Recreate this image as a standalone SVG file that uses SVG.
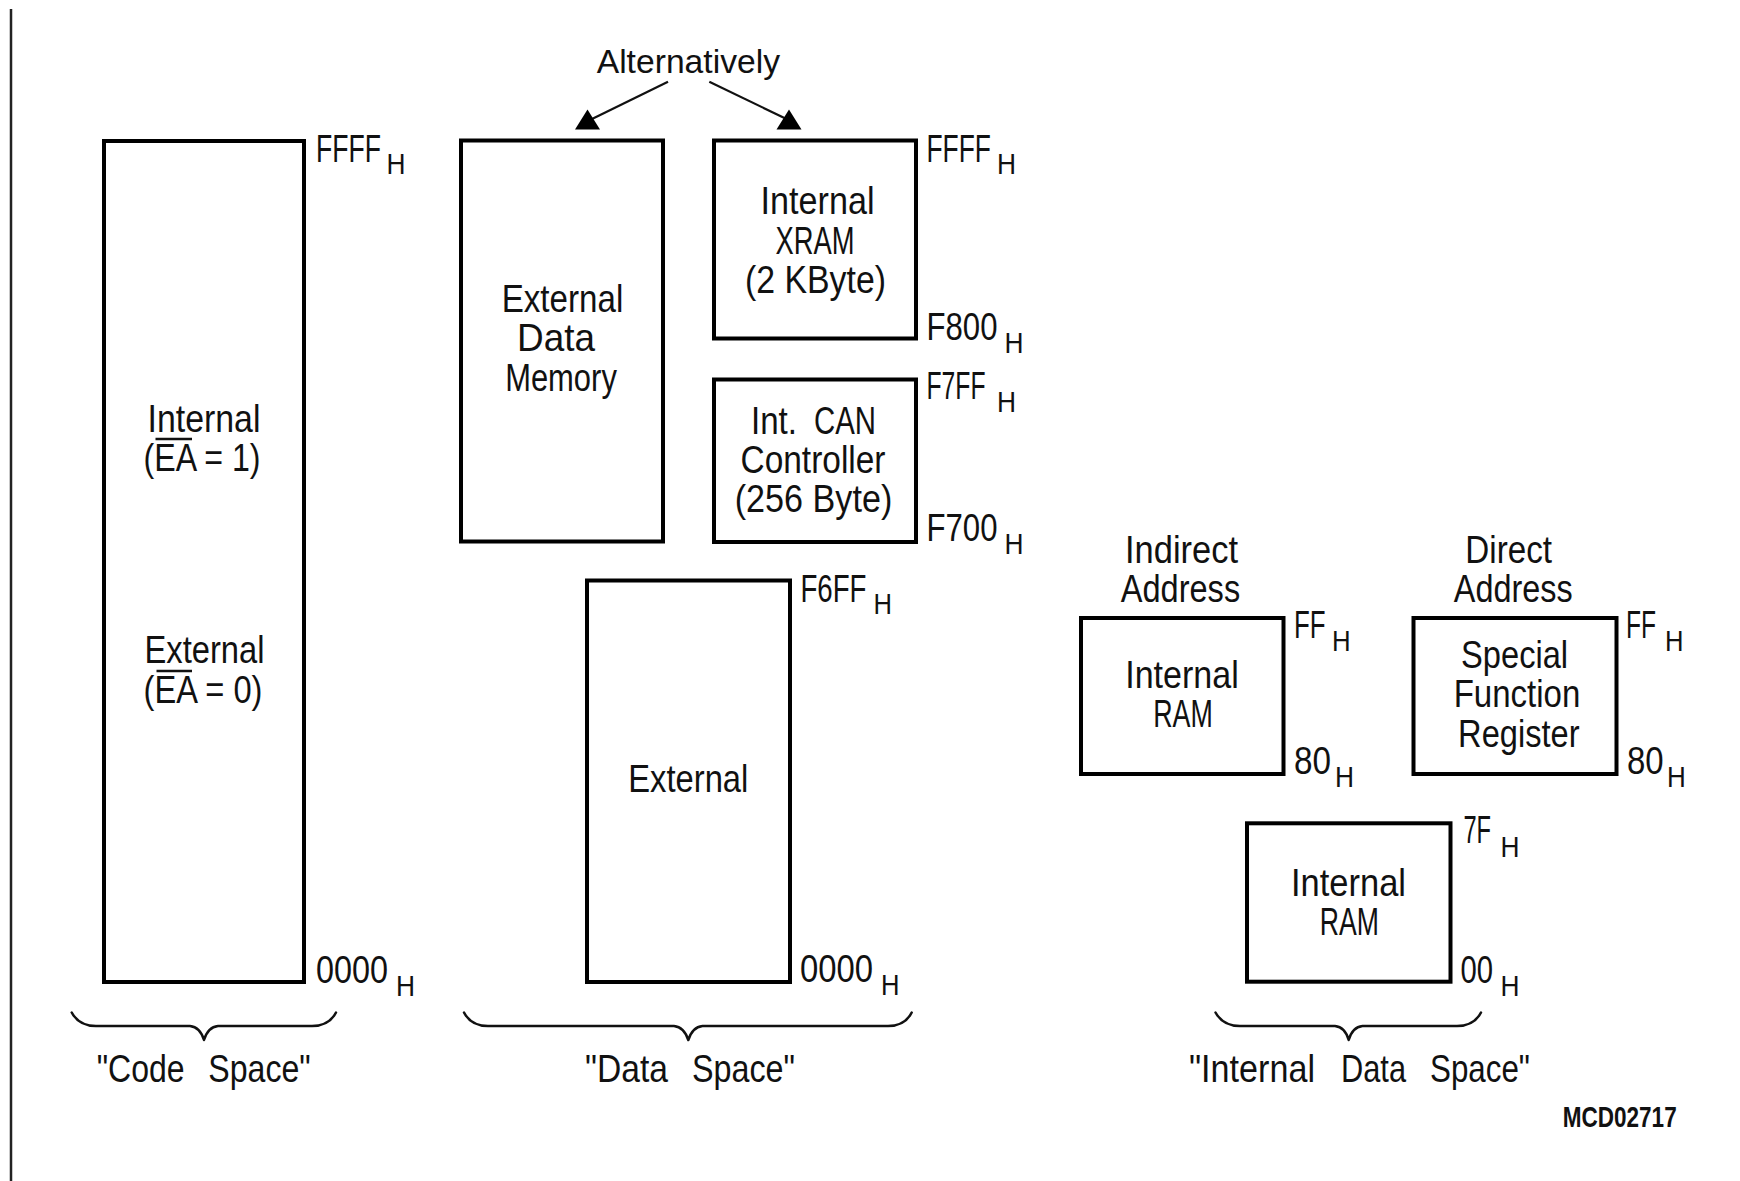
<svg xmlns="http://www.w3.org/2000/svg" width="1740" height="1181" viewBox="0 0 1740 1181">
<style>
  text { font-family: "Liberation Sans", Arial, "DejaVu Sans", sans-serif; fill: #111; }
  .t { font-size: 39px; }
  .a { font-size: 38px; }
  .h { font-size: 30px; }
  .m { text-anchor: middle; }
  .alt { font-size: 34px; }
  .code { font-size: 30px; font-weight: bold; }
  .box { fill: #fff; stroke: #000; stroke-width: 4; }
  .br { fill: none; stroke: #111; stroke-width: 2.5; stroke-linecap: round; stroke-linejoin: round; }
  .ln { fill: none; stroke: #111; stroke-width: 2.2; }
  .ov { stroke: #111; stroke-width: 2.5; }
</style>
<defs>
  <polygon id="ahead" points="-12.5,0 12.5,0 0,-20" fill="#000"/>
</defs>
<rect width="1740" height="1181" fill="#fff"/>
<line x1="11" y1="9" x2="11" y2="1181" stroke="#222" stroke-width="2.5"/>

<g id="code-space">
  <rect class="box" x="104" y="141" width="200" height="841"/>
  <text class="a" transform="translate(316 162) scale(0.70 1)">FFFF</text>
  <text class="h" transform="translate(386.5 174) scale(0.877 1)">H</text>
  <text class="t m" x="204" y="431.8" textLength="113" lengthAdjust="spacingAndGlyphs">Internal</text>
  <text class="t" x="143.5" y="471.2" textLength="117" lengthAdjust="spacingAndGlyphs">(EA = 1)</text>
  <line class="ov" x1="155.5" y1="439" x2="192" y2="439"/>
  <text class="t m" x="204.5" y="663.3" textLength="120" lengthAdjust="spacingAndGlyphs">External</text>
  <text class="t" x="143.5" y="703.2" textLength="119" lengthAdjust="spacingAndGlyphs">(EA = 0)</text>
  <line class="ov" x1="156.5" y1="671" x2="192" y2="671"/>
  <text class="a" transform="translate(316 982.5) scale(0.852 1)">0000</text>
  <text class="h" transform="translate(396 995.5) scale(0.877 1)">H</text>
</g>

<g id="ext-data-memory">
  <rect class="box" x="461" y="140.5" width="202" height="401"/>
  <text class="t m" x="562.5" y="312" textLength="121.6" lengthAdjust="spacingAndGlyphs">External</text>
  <text class="t m" x="556" y="351.2" textLength="78" lengthAdjust="spacingAndGlyphs">Data</text>
  <text class="t m" x="561" y="390.6" textLength="111.7" lengthAdjust="spacingAndGlyphs">Memory</text>
</g>

<g id="internal-xram">
  <rect class="box" x="714" y="140.5" width="202" height="198"/>
  <text class="t m" x="817.5" y="214" textLength="114" lengthAdjust="spacingAndGlyphs">Internal</text>
  <text class="t m" x="815" y="253.5" textLength="79" lengthAdjust="spacingAndGlyphs">XRAM</text>
  <text class="t m" x="815.5" y="292.5" textLength="141" lengthAdjust="spacingAndGlyphs">(2 KByte)</text>
  <text class="a" transform="translate(926.5 161.5) scale(0.694 1)">FFFF</text>
  <text class="h" transform="translate(997 174) scale(0.877 1)">H</text>
  <text class="a" transform="translate(926.5 339.5) scale(0.82 1)">F800</text>
  <text class="h" transform="translate(1004.5 352.5) scale(0.877 1)">H</text>
</g>

<g id="can-controller">
  <rect class="box" x="714" y="379.5" width="202" height="162.5"/>
  <text class="t" y="434"><tspan x="751" textLength="46" lengthAdjust="spacingAndGlyphs">Int.</tspan> <tspan x="814" textLength="62" lengthAdjust="spacingAndGlyphs">CAN</tspan></text>
  <text class="t m" x="813" y="473" textLength="145" lengthAdjust="spacingAndGlyphs">Controller</text>
  <text class="t m" x="813.5" y="512" textLength="157.5" lengthAdjust="spacingAndGlyphs">(256 Byte)</text>
  <text class="a" transform="translate(926.5 399) scale(0.65 1)">F7FF</text>
  <text class="h" transform="translate(997 411.5) scale(0.877 1)">H</text>
  <text class="a" transform="translate(926.5 541) scale(0.82 1)">F700</text>
  <text class="h" transform="translate(1004.5 554) scale(0.877 1)">H</text>
</g>

<g id="external-data">
  <rect class="box" x="587" y="580.5" width="203" height="401.5"/>
  <text class="t m" x="688.3" y="791.7" textLength="120" lengthAdjust="spacingAndGlyphs">External</text>
  <text class="a" transform="translate(800.5 601.7) scale(0.727 1)">F6FF</text>
  <text class="h" transform="translate(873.5 614) scale(0.854 1)">H</text>
  <text class="a" transform="translate(800 982) scale(0.864 1)">0000</text>
  <text class="h" transform="translate(881 994.5) scale(0.854 1)">H</text>
</g>

<g id="indirect-internal-ram">
  <text class="t m" x="1181.5" y="563" textLength="113" lengthAdjust="spacingAndGlyphs">Indirect</text>
  <text class="t m" x="1180.5" y="601.7" textLength="119.3" lengthAdjust="spacingAndGlyphs">Address</text>
  <rect class="box" x="1081" y="618" width="202.5" height="156"/>
  <text class="t m" x="1182" y="688" textLength="113.6" lengthAdjust="spacingAndGlyphs">Internal</text>
  <text class="t m" x="1183" y="727" textLength="59.7" lengthAdjust="spacingAndGlyphs">RAM</text>
  <text class="a" transform="translate(1294 638) scale(0.68 1)">FF</text>
  <text class="h" transform="translate(1332 650.5) scale(0.86 1)">H</text>
  <text class="a" transform="translate(1294 774) scale(0.875 1)">80</text>
  <text class="h" transform="translate(1335 787) scale(0.877 1)">H</text>
</g>

<g id="sfr">
  <text class="t m" x="1508.7" y="563" textLength="86.7" lengthAdjust="spacingAndGlyphs">Direct</text>
  <text class="t m" x="1513.2" y="601.7" textLength="118.8" lengthAdjust="spacingAndGlyphs">Address</text>
  <rect class="box" x="1413.5" y="618" width="203" height="156"/>
  <text class="t m" x="1514.6" y="668" textLength="107" lengthAdjust="spacingAndGlyphs">Special</text>
  <text class="t m" x="1517" y="707" textLength="126.6" lengthAdjust="spacingAndGlyphs">Function</text>
  <text class="t m" x="1518.8" y="746.7" textLength="121.4" lengthAdjust="spacingAndGlyphs">Register</text>
  <text class="a" transform="translate(1626 638) scale(0.647 1)">FF</text>
  <text class="h" transform="translate(1665 650.5) scale(0.854 1)">H</text>
  <text class="a" transform="translate(1627 774) scale(0.868 1)">80</text>
  <text class="h" transform="translate(1667 787) scale(0.868 1)">H</text>
</g>

<g id="lower-internal-ram">
  <rect class="box" x="1247" y="823.3" width="203.5" height="158.4"/>
  <text class="t m" x="1348.5" y="896" textLength="115" lengthAdjust="spacingAndGlyphs">Internal</text>
  <text class="t m" x="1349.4" y="935" textLength="59.2" lengthAdjust="spacingAndGlyphs">RAM</text>
  <text class="a" transform="translate(1463.4 843.3) scale(0.623 1)">7F</text>
  <text class="h" transform="translate(1500.5 857) scale(0.877 1)">H</text>
  <text class="a" transform="translate(1460.4 982.7) scale(0.77 1)">00</text>
  <text class="h" transform="translate(1500.5 995.5) scale(0.877 1)">H</text>
</g>

<g id="alternatively">
  <text class="alt" x="596.7" y="72.5" textLength="183.3" lengthAdjust="spacingAndGlyphs">Alternatively</text>
</g>

<g id="connectors">
  <line class="ln" x1="668" y1="81.7" x2="592" y2="119"/>
  <use href="#ahead" x="587.5" y="129.5"/>
  <line class="ln" x1="709.3" y1="81.7" x2="786.5" y2="119"/>
  <use href="#ahead" x="789" y="129.5"/>
</g>

<g id="braces">
  <path class="br" d="M71.7,1012.5 Q79,1026 96,1026 H190 Q200,1027 204,1040 Q208,1027 218,1026 H312 Q329,1026 336,1012.5"/>
  <path class="br" d="M464,1012.5 Q471,1026 488,1026 H674 Q684,1027 688.3,1040 Q692.5,1027 702.5,1026 H888 Q905,1026 911.7,1012.5"/>
  <path class="br" d="M1215.5,1012.5 Q1223,1026 1240,1026 H1335 Q1345,1027 1348.7,1040 Q1352.5,1027 1362.5,1026 H1457 Q1474,1026 1481,1012.5"/>
</g>

<g id="labels">
  <text class="t" y="1081.7"><tspan x="96.7" textLength="88" lengthAdjust="spacingAndGlyphs">"Code</tspan> <tspan x="208.3" textLength="102.4" lengthAdjust="spacingAndGlyphs">Space"</tspan></text>
  <text class="t" y="1081.7"><tspan x="585" textLength="83" lengthAdjust="spacingAndGlyphs">"Data</tspan> <tspan x="692" textLength="103" lengthAdjust="spacingAndGlyphs">Space"</tspan></text>
  <text class="t" y="1081.7"><tspan x="1189" textLength="126" lengthAdjust="spacingAndGlyphs">"Internal</tspan> <tspan x="1341" textLength="65" lengthAdjust="spacingAndGlyphs">Data</tspan> <tspan x="1430" textLength="100" lengthAdjust="spacingAndGlyphs">Space"</tspan></text>
  <text class="code" x="1562.7" y="1126.5" textLength="114" lengthAdjust="spacingAndGlyphs">MCD02717</text>
</g>
</svg>
